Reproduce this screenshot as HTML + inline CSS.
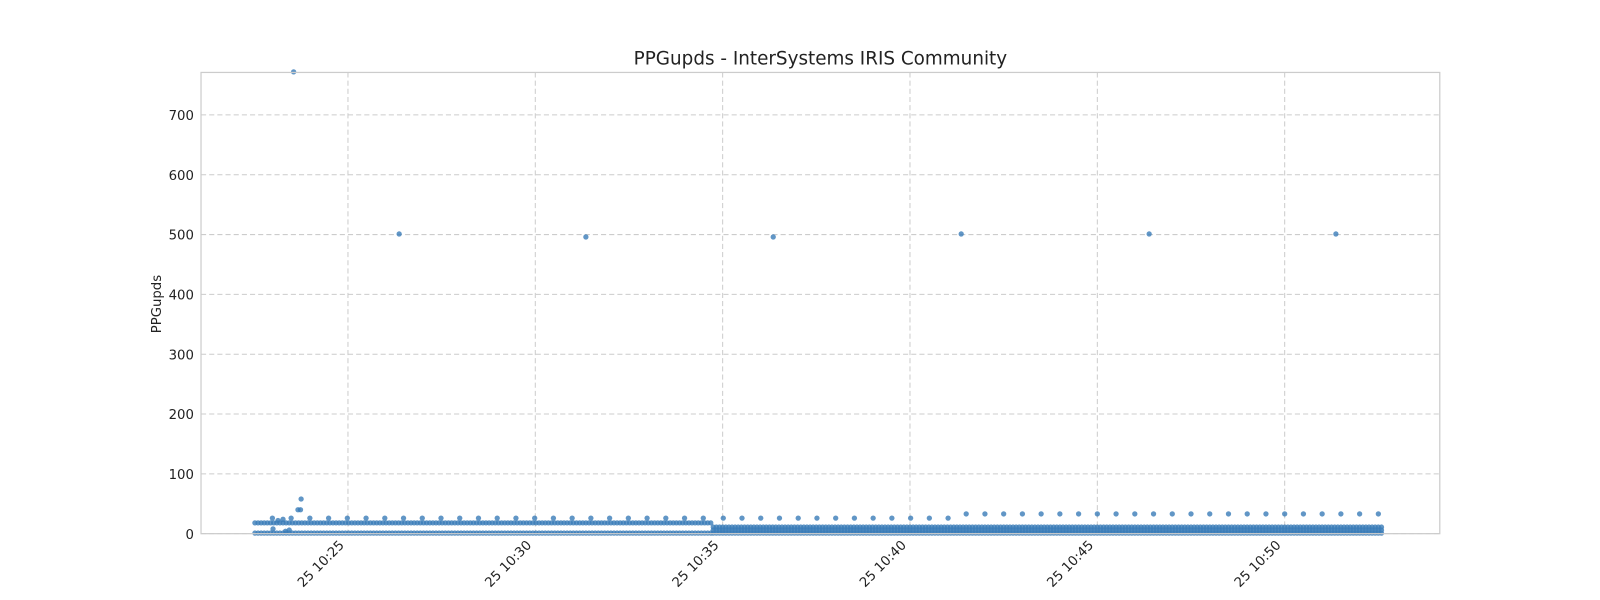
<!DOCTYPE html>
<html><head><meta charset="utf-8"><style>
html,body{margin:0;padding:0;background:#fff;width:1600px;height:600px;overflow:hidden;}
svg{display:block;width:1600px;height:600px;font-family:"DejaVu Sans","Liberation Sans",sans-serif;}
</style></head><body>
<svg id="chart" width="1600" height="600" viewBox="0 0 1600 600">
<rect x="0" y="0" width="1600" height="600" fill="#fff"/>
<g transform="scale(1.0204)">
<text x="804" y="63" text-anchor="middle" font-size="18" fill="#222">PPGupds - InterSystems IRIS Community</text>
<text transform="translate(158,298) rotate(-90)" text-anchor="middle" font-size="13" fill="#222">PPGupds</text>
<g id="grid"></g><g id="marks"></g><g id="axes"></g>
</g>
</svg>
<script>
// seconds since 10:20:00
const yTicks=[0,100,200,300,400,500,600,700];
const xTickTimes=[300,600,900,1200,1500,1800];
const xTickLabels=["25 10:25","25 10:30","25 10:35","25 10:40","25 10:45","25 10:50"];
// dense runs: [start, end, stepSec, value]
const denseRuns=[[151,881,5,18],[151,881,5,1],[885,1958,5,11],[885,1958,5,6],[885,1958,5,1]];
// periodic runs: [start, end, stepSec, value]
const periodicRuns=[[179,870,30,26],[901,1262,30,26],[1290,1955,30,33]];
const outlierTimes=[213,225,220,224,382,681,981,1282,1583,1882,180,188,196,200,206];
const outlierValues=[772,58,40,40,501,496,496,501,501,501,8,22,24,4,6];

const L=197,R=1411,T=71,B=523;
const xs=t=>341+(t-300)*0.612;
const ys=v=>523-v*(452/771);
const NS="http://www.w3.org/2000/svg";
function mk(tag,attrs,parent){const e=document.createElementNS(NS,tag);for(const k in attrs)e.setAttribute(k,attrs[k]);parent.appendChild(e);return e;}
const grid=document.getElementById('grid'),marks=document.getElementById('marks'),axes=document.getElementById('axes');
yTicks.forEach(v=>{
  const g=mk('line',{x1:L,x2:R,y1:ys(v),y2:ys(v),stroke:'#ccc','stroke-dasharray':'5,3','stroke-width':1},grid);
  
  
  const t=mk('text',{x:190,y:ys(v)+5,'text-anchor':'end','font-size':13,fill:'#222'},axes);
  t.textContent=v;
  
  
});
xTickTimes.forEach((tt,i)=>{
  const x=xs(tt);
  const g=mk('line',{x1:x,x2:x,y1:T,y2:B,stroke:'#ccc','stroke-dasharray':'5,3','stroke-width':1},grid);
  
  
  const t=mk('text',{transform:`translate(${x-3},${535}) rotate(-45)`,'text-anchor':'end','font-size':13,fill:'#222'},axes);
  t.textContent=xTickLabels[i];
  
  
});
const fr=mk('rect',{x:L,y:T,width:R-L,height:B-T,fill:'none',stroke:'#ccc','stroke-width':1.2},axes);


function dot(t,v){
  const c=mk('circle',{cx:xs(t),cy:ys(v),r:2.6,fill:'#3a7cb8','fill-opacity':0.8},marks);
  
  
}
denseRuns.forEach(([s,e,st,v])=>{for(let t=s;t<=e;t+=st)dot(t,v);});
periodicRuns.forEach(([s,e,st,v])=>{for(let t=s;t<=e;t+=st)dot(t,v);});
outlierTimes.forEach((t,i)=>dot(t,outlierValues[i]));
</script>
</body></html>
